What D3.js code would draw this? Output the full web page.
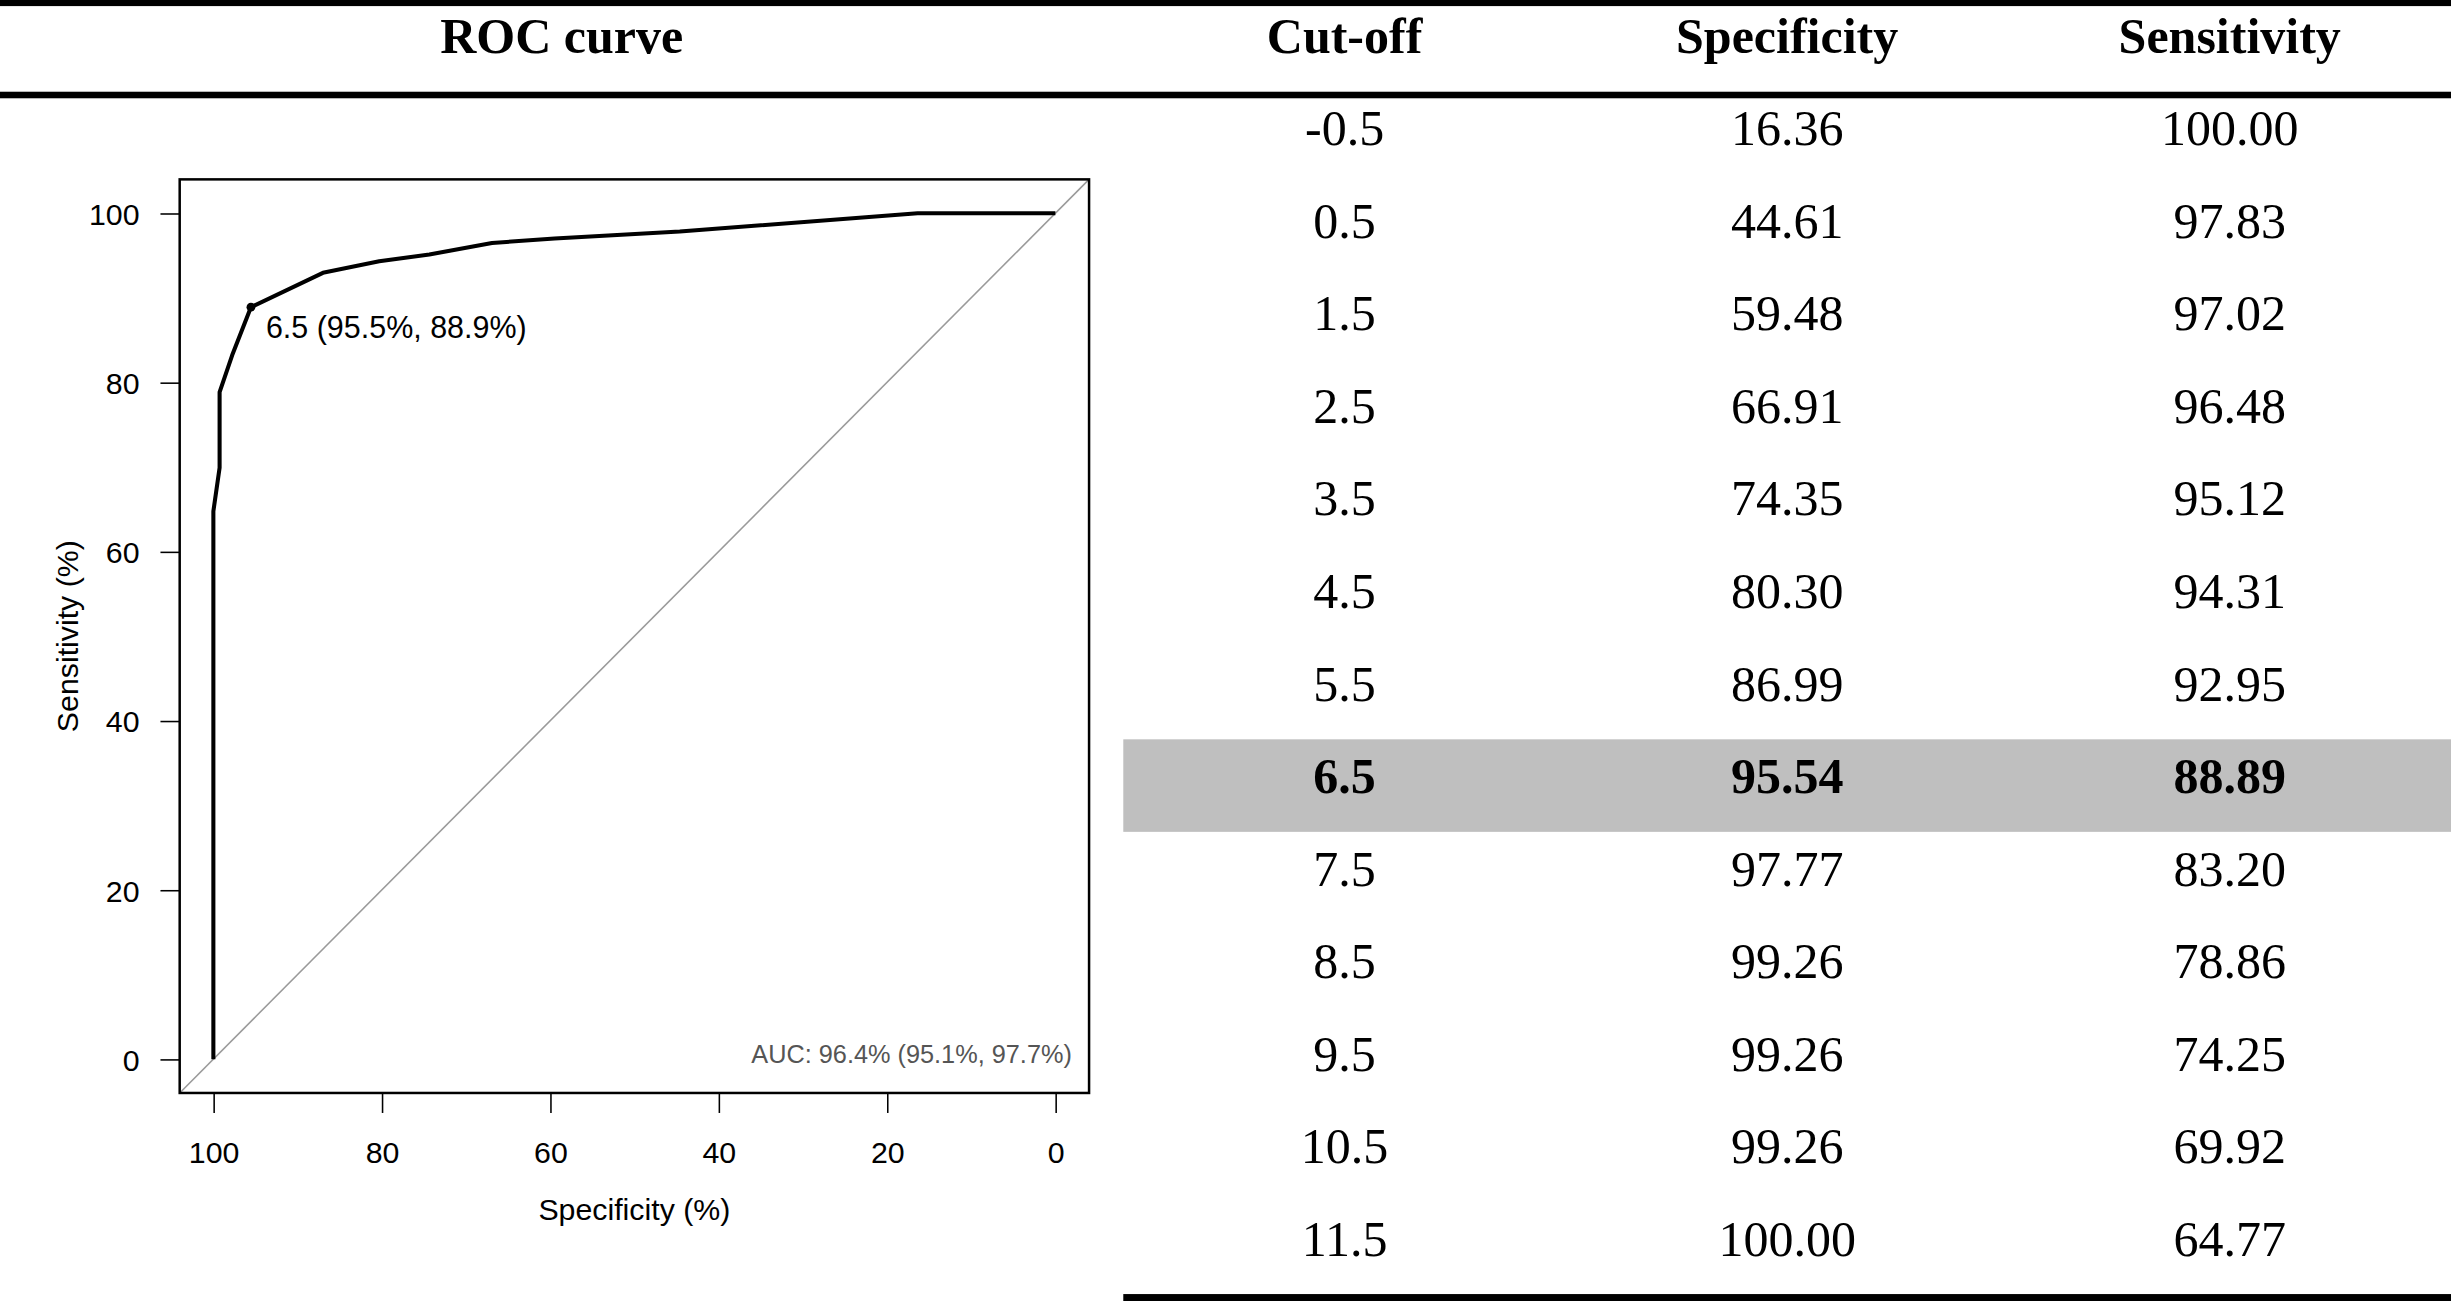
<!DOCTYPE html>
<html>
<head>
<meta charset="utf-8">
<script src="https://cdn.jsdelivr.net/npm/d3@7"></script>
<style>
  html, body { margin: 0; padding: 0; background: #fff; }
  svg { display: block; }
</style>
</head>
<body>
<div id="chart"><svg></svg></div>
<script>
// table data
const cutoffs = ["-0.5", "0.5", "1.5", "2.5", "3.5", "4.5", "5.5", "6.5", "7.5", "8.5", "9.5", "10.5", "11.5"];
const specificity = [16.36, 44.61, 59.48, 66.91, 74.35, 80.30, 86.99, 95.54, 97.77, 99.26, 99.26, 99.26, 100.00];
const sensitivity = [100.00, 97.83, 97.02, 96.48, 95.12, 94.31, 92.95, 88.89, 83.20, 78.86, 74.25, 69.92, 64.77];
const headers = ["Cut-off", "Specificity", "Sensitivity"];
const bestIndex = 7;

// roc curve ends (spec, sens)
const startPoint = [0, 100];
const endPoint = [100, 0];
const axisTicks = [100, 80, 60, 40, 20, 0];
const thresLabel = "6.5 (95.5%, 88.9%)";
const aucLabel = "AUC: 96.4% (95.1%, 97.7%)";

const W = 1568.64, H = 832.64;
const serif = "'Liberation Serif', 'Times New Roman', serif";
const sans = "'Liberation Sans', Arial, Helvetica, sans-serif";

let svg = d3.select("#chart").select("svg")
	.attr("width", 2451)
	.attr("height", 1301)
	.attr("viewBox", `0 0 ${W} ${H}`);

/* *** TABLE *** */
const tableLeft = 718.9;
let colX = d3.scaleBand()
	.domain(headers)
	.range([tableLeft, W]);

let rowY = d3.scaleBand()
	.domain(d3.range(cutoffs.length))
	.range([58.6, 828.5]);

let rows = cutoffs.map((c, i) => ({cut: c, spec: specificity[i].toFixed(2), sens: sensitivity[i].toFixed(2), i: i}));

// highlighted row
svg.append("rect")
	.attr("x", tableLeft)
	.attr("y", rowY(bestIndex))
	.attr("width", W - tableLeft)
	.attr("height", rowY.bandwidth())
	.attr("fill", "#bfbfbf");

// rules
svg.append("rect").attr("x", 0).attr("y", 0).attr("width", W).attr("height", 3.9).attr("fill", "#000");
svg.append("rect").attr("x", 0).attr("y", 58.7).attr("width", W).attr("height", 4.2).attr("fill", "#000");
svg.append("rect").attr("x", tableLeft).attr("y", 828.2).attr("width", W - tableLeft).attr("height", 4.5).attr("fill", "#000");

// header
svg.append("text")
	.attr("x", tableLeft / 2)
	.attr("y", 34)
	.attr("text-anchor", "middle")
	.attr("font-family", serif)
	.attr("font-weight", "bold")
	.attr("font-size", 32)
	.text("ROC curve");

svg.selectAll("text.head")
	.data(headers)
	.enter()
	.append("text")
	.attr("class", "head")
	.attr("x", d => colX(d) + colX.bandwidth() / 2)
	.attr("y", 34)
	.attr("text-anchor", "middle")
	.attr("font-family", serif)
	.attr("font-weight", "bold")
	.attr("font-size", 32)
	.text(d => d);

let rowG = svg.selectAll("g.row")
	.data(rows)
	.enter()
	.append("g")
	.attr("class", "row")
	.attr("font-family", serif)
	.attr("font-size", 32)
	.attr("font-weight", d => d.i === bestIndex ? "bold" : "normal")
	.attr("text-anchor", "middle");

[["cut", headers[0]], ["spec", headers[1]], ["sens", headers[2]]].forEach(([key, h]) => {
	rowG.append("text")
		.attr("x", colX(h) + colX.bandwidth() / 2)
		.attr("y", d => rowY(d.i) + 34.4)
		.text(d => d[key]);
});

/* *** ROC PLOT *** */
let x = d3.scaleLinear().domain([104, -4]).range([115, 697]);
let y = d3.scaleLinear().domain([-4, 104]).range([699.5, 114.8]);

let plot = svg.append("g");

// diagonal
plot.append("line")
	.attr("x1", x(104)).attr("y1", y(-4))
	.attr("x2", x(-4)).attr("y2", y(104))
	.attr("stroke", "#9a9a9a")
	.attr("stroke-width", 1);

let curve = [startPoint].concat(specificity.map((s, i) => [s, sensitivity[i]])).concat([endPoint]);

plot.append("path")
	.datum(curve)
	.attr("fill", "none")
	.attr("stroke", "#000")
	.attr("stroke-width", 2.6)
	.attr("stroke-linejoin", "round")
	.attr("d", d3.line().x(d => x(d[0])).y(d => y(d[1])));

// best threshold
plot.append("circle")
	.attr("cx", x(specificity[bestIndex]))
	.attr("cy", y(sensitivity[bestIndex]))
	.attr("r", 2.8)
	.attr("fill", "#000");

plot.append("text")
	.attr("x", x(specificity[bestIndex]) + 9.6)
	.attr("y", y(sensitivity[bestIndex]) + 19.7)
	.attr("font-family", sans)
	.attr("font-size", 19.5)
	.text(thresLabel);

plot.append("text")
	.attr("x", 686)
	.attr("y", 680.5)
	.attr("text-anchor", "end")
	.attr("font-family", sans)
	.attr("font-size", 16.2)
	.attr("fill", "#555")
	.text(aucLabel);

// box
plot.append("rect")
	.attr("x", 115).attr("y", 114.8)
	.attr("width", 697 - 115).attr("height", 699.5 - 114.8)
	.attr("fill", "none")
	.attr("stroke", "#000")
	.attr("stroke-width", 1.6);

// axes
let xAxis = plot.append("g")
	.attr("transform", "translate(0,699.5)")
	.call(d3.axisBottom(x).tickValues(axisTicks).tickSize(12.8).tickPadding(19));
let yAxis = plot.append("g")
	.attr("transform", "translate(115,0)")
	.call(d3.axisLeft(y).tickValues(axisTicks).tickSize(12.3).tickPadding(13.4));

[xAxis, yAxis].forEach(a => {
	a.select(".domain").remove();
	a.selectAll("line").attr("stroke", "#000").attr("stroke-width", 1);
	a.selectAll("text")
		.attr("font-family", sans)
		.attr("font-size", 19.4)
		.attr("fill", "#000");
});
xAxis.selectAll("text").attr("dy", null).attr("y", 44.5);
yAxis.selectAll("text").attr("dy", "0.36em");

plot.append("text")
	.attr("x", (115 + 697) / 2)
	.attr("y", 781)
	.attr("text-anchor", "middle")
	.attr("font-family", sans)
	.attr("font-size", 19.4)
	.text("Specificity (%)");

plot.append("text")
	.attr("transform", `translate(50,${(114.8 + 699.5) / 2}) rotate(-90)`)
	.attr("text-anchor", "middle")
	.attr("font-family", sans)
	.attr("font-size", 19.4)
	.text("Sensitivity (%)");
</script>
</body>
</html>
